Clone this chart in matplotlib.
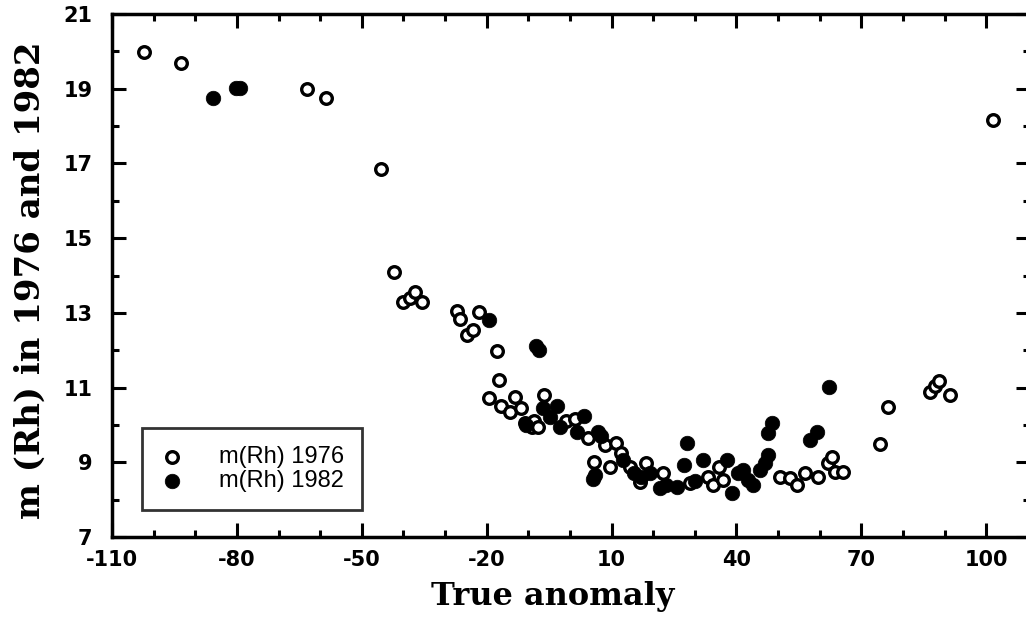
import matplotlib
matplotlib.use('Agg')
import matplotlib.pyplot as plt
from matplotlib.ticker import MultipleLocator

plt.rcParams['axes.unicode_minus'] = False

# m(Rh) 1976 (open circles)
x_1976 = [-102.3, -93.4, -63.2, -58.6, -45.4, -42.3, -40.1, -38.4, -37.2, -35.5,
          -27.1, -26.4, -24.7, -23.3, -21.8, -17.5, -17.0, -19.4, -16.6, -14.4,
          -13.2, -11.8, -10.8, -9.1, -8.6, -7.7, -6.2, -0.9, 1.2, 4.3,
          8.4, 11.1, 12.3, 5.8, 9.6, 14.4, 16.8, 18.3, 22.4, 28.8,
          33.2, 34.4, 35.7, 36.8, 50.5, 52.9, 54.5, 56.5, 59.6, 62.0,
          63.0, 63.7, 65.6, 74.5, 76.4, 86.5, 87.7, 88.7, 91.3, 101.6]
y_1976 = [19.98, 19.7, 19.0, 18.75, 16.85, 14.1, 13.3, 13.4, 13.55, 13.3,
          13.05, 12.84, 12.4, 12.55, 13.03, 11.98, 11.2, 10.72, 10.5, 10.35,
          10.75, 10.45, 10.05, 9.95, 10.1, 9.95, 10.8, 10.1, 10.15, 9.65,
          9.45, 9.52, 9.25, 9.0, 8.88, 8.88, 8.48, 8.98, 8.71, 8.45,
          8.6, 8.4, 8.88, 8.53, 8.6, 8.58, 8.4, 8.7, 8.6, 8.98,
          9.15, 8.74, 8.74, 9.5, 10.48, 10.88, 11.05, 11.18, 10.8, 18.17]

# m(Rh) 1982 (filled circles)
x_1982 = [-85.7, -80.2, -79.2, -19.4, -8.2, -7.4, -6.5, -4.8, -3.1, -2.4,
          -10.5, 1.7, 3.4, 6.7, 5.5, 6.0, 12.8, 19.2, 21.6, 23.0,
          25.7, 27.4, 28.1, 32.0, 37.8, 38.9, 40.4, 41.6, 42.8, 44.0,
          45.7, 46.9, 47.6, 47.6, 48.6, 57.7, 59.3, 62.3, 7.5, 15.5,
          17.0, 30.0]
y_1982 = [18.75, 19.02, 19.02, 12.8, 12.1, 12.0, 10.45, 10.2, 10.5, 9.95,
          10.0, 9.8, 10.25, 9.8, 8.55, 8.65, 9.06, 8.71, 8.3, 8.4,
          8.34, 8.93, 9.52, 9.05, 9.06, 8.18, 8.7, 8.79, 8.53, 8.4,
          8.79, 8.98, 9.2, 9.78, 10.05, 9.6, 9.82, 11.02, 9.7, 8.7,
          8.6, 8.5]

x_ticks = [-110, -80, -50, -20, 10, 40, 70, 100]
y_ticks = [7, 9, 11, 13, 15, 17, 19, 21]

fig = plt.figure(figsize=(10.26, 6.19), dpi=100)
ax = fig.add_axes([112 / 1026, 1 - 537 / 619, 918 / 1026, 523 / 619])

ax.scatter(x_1976, y_1976, s=70, facecolors='white', edgecolors='black',
           linewidths=2.4, label='m(Rh) 1976', zorder=3)
ax.scatter(x_1982, y_1982, s=110, facecolors='black', edgecolors='black',
           linewidths=0.5, label='m(Rh) 1982', zorder=3)

ax.set_xlim(-110, 110.5)
ax.set_ylim(7, 21)
ax.set_xticks(x_ticks)
ax.set_yticks(y_ticks)
ax.xaxis.set_minor_locator(MultipleLocator(10))
ax.yaxis.set_minor_locator(MultipleLocator(1))
ax.tick_params(which='both', direction='in', top=True, right=True, width=2.2)
ax.tick_params(which='major', length=10)
ax.tick_params(which='minor', length=5)
ax.tick_params(axis='x', labelsize=15, pad=9)
ax.tick_params(axis='y', labelsize=15, pad=14)
for lab in ax.get_xticklabels() + ax.get_yticklabels():
    lab.set_family(['Liberation Sans Narrow', 'DejaVu Sans'])
    lab.set_fontweight('bold')
for sp in ax.spines.values():
    sp.set_linewidth(2.5)

ax.set_ylabel('m (Rh) in 1976 and 1982', fontsize=24.5, fontweight='heavy',
              family='DejaVu Serif')
ax.yaxis.set_label_coords(-0.071, 0.49)
ax.set_xlabel('True anomaly', fontsize=23, fontweight='heavy',
              family='DejaVu Serif')
ax.xaxis.set_label_coords(0.480, -0.085)

leg = ax.legend(loc='lower left', bbox_to_anchor=(142 / 1026, 1 - 510 / 619),
                bbox_transform=fig.transFigure, frameon=True, fancybox=False,
                prop={'family': 'Liberation Sans', 'size': 17},
                handlelength=1.0, handletextpad=1.5, borderpad=0.75,
                labelspacing=0.1, borderaxespad=0)
leg.get_frame().set_edgecolor('black')
leg.get_frame().set_linewidth(2)

fig.savefig('out.png', dpi=100, facecolor='white')
